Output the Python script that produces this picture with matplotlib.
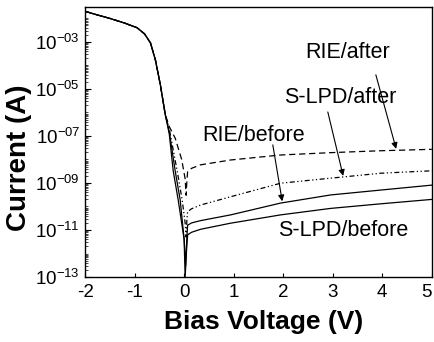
import numpy as np
import matplotlib
matplotlib.use("Agg")
import matplotlib.pyplot as plt
from matplotlib.ticker import FixedLocator, FuncFormatter, NullFormatter

plt.rcParams['font.family'] = ['Liberation Sans', 'DejaVu Sans']
plt.rcParams['mathtext.fontset'] = 'custom'
plt.rcParams['mathtext.rm'] = 'Liberation Sans'
plt.rcParams['mathtext.it'] = 'Liberation Sans:italic'
plt.rcParams['axes.unicode_minus'] = False

# shared forward-bias branch (all four devices overlap here)
v_fwd = [-2.0, -1.8, -1.5, -1.2, -0.95, -0.8, -0.68, -0.58, -0.48, -0.44, -0.38]
i_fwd = [2.0e-2, 1.5e-2, 1.0e-2, 6.3e-3, 4.0e-3, 2.2e-3, 9.1e-4, 1.7e-4, 1.5e-5, 4.6e-6, 7.9e-7]

# RIE/after (dashed)
v_rie_after = [-0.3, -0.18, -0.05, 0.02, 0.04, 0.055, 0.07, 0.15, 0.33, 0.94, 1.95, 2.96, 3.97, 5.0]
i_rie_after = [2.5e-7, 8e-8, 1.0e-8, 1.5e-9, 3e-10, 1.2e-9, 3.0e-9, 4.2e-9, 5.9e-9, 9.5e-9,
               1.55e-8, 1.95e-8, 2.35e-8, 2.7e-8]

# S-LPD/after (dash-dot)
v_slpd_after = [-0.3, -0.14, -0.04, 0.02, 0.04, 0.055, 0.07, 0.15, 0.33, 0.94, 1.95, 2.96,
                3.97, 5.0]
i_slpd_after = [2.0e-7, 3.2e-9, 1.9e-10, 2e-11, 5e-12, 2.5e-11, 6.0e-11, 8e-11, 1.15e-10,
                2.6e-10, 9.8e-10, 1.6e-9, 2.6e-9, 3.3e-9]

# RIE/before (solid, upper)
v_rie_before = [-0.3, -0.18, -0.08, 0.0, 0.03, 0.05, 0.07, 0.15, 0.33, 0.94, 1.95, 2.96, 3.97, 5.0]
i_rie_before = [1.5e-7, 3.2e-9, 1.9e-10, 4e-12, 3e-13, 3e-12, 1.6e-11, 2.0e-11, 2.5e-11,
                4.4e-11, 1.4e-10, 3.1e-10, 5.0e-10, 8.1e-10]

# S-LPD/before (solid, lower)
v_slpd_before = [-0.3, -0.22, -0.12, 0.0, 0.02, 0.05, 0.07, 0.15, 0.33, 0.94, 1.95, 2.96, 3.97, 5.0]
i_slpd_before = [1.2e-7, 3.2e-9, 1.9e-10, 4e-12, 1e-13, 1.5e-12, 6.2e-12, 8e-12, 1.07e-11,
                 1.95e-11, 4.4e-11, 8.3e-11, 1.3e-10, 2.0e-10]

fig = plt.figure(figsize=(4.34, 3.42), dpi=100)
ax = fig.add_axes([0.196, 0.190, 0.799, 0.790])

lw = 0.9
ax.plot(v_fwd + v_rie_after, i_fwd + i_rie_after, color='k', lw=lw, linestyle=(0, (5, 3)))
ax.plot(v_fwd + v_slpd_after, i_fwd + i_slpd_after, color='k', lw=lw,
        linestyle=(0, (4, 2, 1, 2, 1, 2)))
ax.plot(v_fwd + v_rie_before, i_fwd + i_rie_before, color='k', lw=lw)
ax.plot(v_fwd + v_slpd_before, i_fwd + i_slpd_before, color='k', lw=lw)

ax.set_yscale('log')
ax.set_xlim(-2, 5)
ax.set_ylim(1e-13, 3.1e-2)

ax.yaxis.set_major_locator(FixedLocator([1e-13, 1e-11, 1e-9, 1e-7, 1e-5, 1e-3]))
ax.yaxis.set_major_formatter(FuncFormatter(lambda v, p: r'$10^{-%02d}$' % round(-np.log10(v))))
minor_pos = [m * 10.0**e for e in range(-14, -1) for m in range(2, 10)]
minor_pos += [10.0**e for e in range(-12, -1, 2)]
ax.yaxis.set_minor_locator(FixedLocator(minor_pos))
ax.yaxis.set_minor_formatter(NullFormatter())
ax.set_xticks(range(-2, 6))

ax.tick_params(axis='both', which='both', direction='in', labelsize=13.5)
ax.tick_params(axis='y', which='major', length=4, width=0.8)
ax.tick_params(axis='y', which='minor', length=2, width=0.5)
ax.tick_params(axis='x', which='major', length=3, width=0.8, pad=5)
for s in ax.spines.values():
    s.set_linewidth(1.0)

# last x label sits against the figure edge
ax.get_xticklabels()[-1].set_ha('right')

ax.set_xlabel('Bias Voltage (V)', fontsize=19, fontweight='bold', va='top')
ax.set_ylabel('Current (A)', fontsize=20, fontweight='bold')
ax.xaxis.set_label_coords(0.514, -0.122)
ax.yaxis.set_label_coords(-0.154, 0.443)

# labels and arrows
ax.text(3.30, 10**-3.47, 'RIE/after', fontsize=15.5, ha='center', va='center')
ax.text(3.15, 10**-5.38, 'S-LPD/after', fontsize=15.5, ha='center', va='center')
ax.text(1.41, 10**-6.96, 'RIE/before', fontsize=15.5, ha='center', va='center')
ax.text(3.21, 10**-11.04, 'S-LPD/before', fontsize=15.5, ha='center', va='center')

arrow = dict(arrowstyle='-|>', color='k', lw=0.8, mutation_scale=9, shrinkA=0, shrinkB=0)
ax.annotate('', xy=(4.28, 10**-7.55), xytext=(3.87, 10**-4.40), arrowprops=arrow)
ax.annotate('', xy=(3.21, 10**-8.70), xytext=(2.90, 10**-5.98), arrowprops=arrow)
ax.annotate('', xy=(1.98, 10**-9.78), xytext=(1.79, 10**-7.38), arrowprops=arrow)

fig.savefig('out.png', dpi=100)
